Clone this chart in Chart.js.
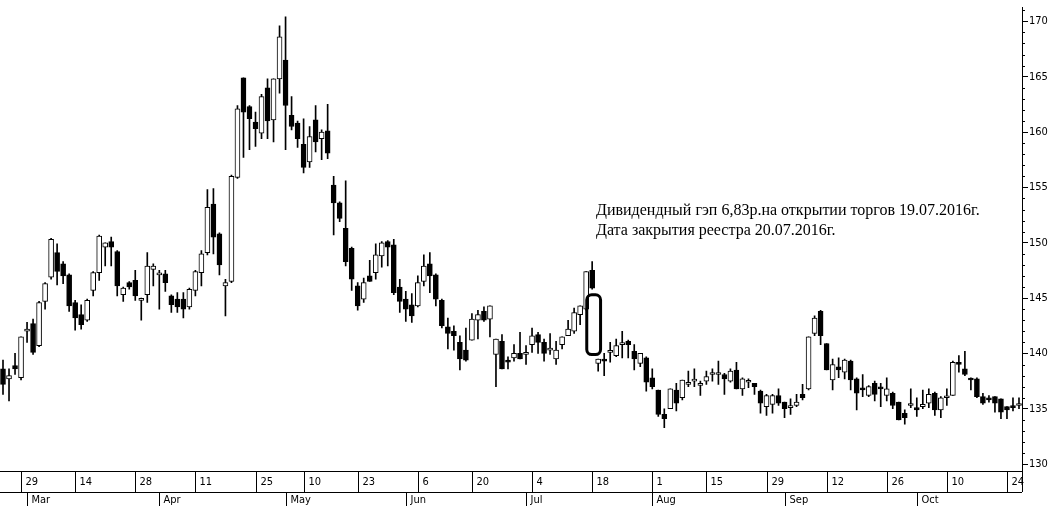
<!DOCTYPE html>
<html>
<head>
<meta charset="utf-8">
<script src="https://cdn.jsdelivr.net/npm/chart.js@4/dist/chart.umd.min.js"></script>
<style>
  html, body { margin: 0; padding: 0; background: #fff; }
  #wrap { width: 1057px; height: 506px; }
</style>
</head>
<body>
<div id="wrap"><canvas id="chart"></canvas></div>
<script>
// OHLC, one entry per trading day
const opens = [138.6,137.7,138.9,137.8,142.0,142.7,140.7,144.7,146.9,149.1,148.1,147.1,144.6,143.5,143.0,145.7,147.3,149.6,150.1,149.2,
  145.3,146.4,146.6,144.8,145.3,147.6,147.1,147.2,145.2,144.9,144.9,144.2,145.7,147.3,149.1,153.5,150.8,146.1,146.5,155.9,
  164.9,162.3,160.9,159.9,164.0,161.1,164.8,166.5,161.5,160.8,158.9,157.3,161.1,159.4,160.1,155.2,153.6,151.3,149.5,146.1,
  144.9,147.0,147.3,148.8,150.1,149.8,146.0,144.9,144.4,144.3,146.5,148.1,147.1,144.8,142.4,142.0,141.0,140.3,141.2,143.0,
  143.8,143.1,139.9,141.1,139.4,139.6,140.0,139.9,140.8,141.7,141.0,140.3,139.5,140.8,141.6,142.0,143.5,144.0,147.5,139.1,
  139.5,140.1,139.8,140.8,141.1,140.2,139.1,139.6,137.8,136.7,134.5,135.0,136.7,136.0,137.2,137.5,137.1,137.5,138.1,138.1,
  138.1,137.5,138.5,136.8,137.4,137.3,136.6,135.2,135.4,136.2,135.6,135.1,135.3,136.3,136.8,141.8,143.8,140.9,137.6,138.8,
  138.3,139.3,137.7,136.9,136.2,137.3,136.9,136.2,136.4,135.6,134.6,135.3,135.1,135.2,135.5,136.4,134.9,136.0,136.2,139.2,
  138.6,137.7,137.7,136.1,136.0,136.1,135.9,135.2,135.3,135.3]
const highs = [139.4,138.6,140.0,141.5,142.8,143.1,144.7,146.4,150.4,149.9,148.3,147.2,144.8,144.4,144.9,147.4,150.7,150.0,150.5,149.3,
  146.0,146.5,147.5,145.0,149.1,148.1,147.5,147.5,145.3,145.5,145.5,145.9,147.5,149.3,154.8,154.9,150.9,146.7,156.1,162.4,
  164.9,162.4,161.8,163.4,164.8,164.8,169.6,170.4,163.2,161.0,161.2,160.5,162.4,160.2,162.5,156.0,153.7,155.6,149.6,146.4,
  146.8,148.4,149.9,150.1,150.2,150.3,146.7,145.6,145.4,147.0,148.9,149.1,147.2,144.9,143.2,142.5,141.6,142.3,143.6,143.9,
  144.2,144.3,141.3,141.7,139.7,140.8,141.9,140.7,142.3,141.9,141.3,141.8,141.1,141.5,143.0,144.1,144.3,147.4,148.3,139.5,
  140.0,141.0,141.3,142.0,141.2,140.8,140.0,139.7,138.6,136.7,135.0,136.8,137.3,137.6,138.4,138.6,137.5,138.4,138.6,139.3,
  138.2,138.6,139.2,137.8,137.7,137.3,136.7,136.3,136.3,136.8,135.6,135.9,136.3,137.2,141.5,143.4,143.9,140.9,139.5,139.6,
  139.5,139.4,137.8,138.1,137.1,137.5,137.3,137.8,136.5,135.6,134.9,136.8,136.0,136.7,136.8,136.5,136.1,136.8,139.3,139.8,
  140.2,137.8,137.8,136.4,136.2,136.1,135.9,135.2,136.0,136.0]
const lows = [136.3,135.7,138.1,137.6,141.0,139.9,140.6,144.0,146.7,146.2,146.3,143.8,142.1,142.2,142.9,145.2,146.6,147.9,147.9,145.2,
  144.7,145.8,144.8,143.0,144.6,146.1,144.0,145.6,143.7,143.7,143.2,144.0,145.2,146.1,148.9,149.0,147.1,143.4,146.4,155.8,
  157.7,158.4,158.7,159.4,159.4,159.1,163.5,158.4,160.2,158.6,156.3,156.8,158.2,157.5,157.6,150.7,151.9,147.9,145.7,143.9,
  144.6,146.5,146.7,147.8,147.9,145.3,143.7,142.9,142.8,144.2,146.1,145.5,144.3,142.3,140.4,140.3,138.5,139.3,141.2,141.3,
  142.9,141.5,137.0,138.6,138.6,139.3,139.5,139.0,140.1,140.0,139.3,139.9,139.0,140.4,141.6,141.8,142.6,143.9,145.8,138.4,
  138.0,139.2,139.7,139.6,139.6,138.5,138.8,136.6,136.8,134.3,133.3,135.0,134.8,135.8,137.0,137.0,136.2,137.2,137.5,137.2,
  136.3,137.4,136.8,136.2,136.9,136.3,134.6,134.4,134.6,135.3,134.2,134.5,135.2,135.8,136.7,141.6,140.8,138.5,136.7,137.8,
  137.7,136.7,134.9,136.1,136.1,135.7,135.2,135.7,135.0,134.0,133.6,135.1,134.3,135.0,135.1,134.4,134.2,135.3,136.2,138.3,
  138.0,136.7,136.0,135.4,135.6,134.7,134.1,134.1,134.8,135.0]
const closes = [137.2,138.0,138.6,141.5,142.2,140.1,144.6,146.3,150.3,147.4,147.0,144.3,143.2,142.6,144.8,147.3,150.6,150.0,149.6,146.1,
  145.9,146.0,145.2,144.8,147.9,147.9,147.2,146.4,144.4,144.2,144.0,145.8,147.4,149.0,153.2,150.5,148.0,146.4,156.0,162.1,
  161.8,161.2,160.3,163.2,161.0,164.8,168.6,162.4,160.5,159.4,156.8,159.6,159.1,160.0,158.1,153.6,152.2,148.3,146.7,144.3,
  146.4,146.5,148.9,150.0,149.6,145.5,144.7,144.0,143.4,146.4,147.9,147.0,144.9,142.5,141.8,141.6,139.5,139.4,143.1,143.5,
  143.0,144.3,141.3,138.6,139.2,140.0,139.5,140.1,141.6,141.0,140.0,140.3,140.3,141.5,142.2,143.7,144.3,147.4,145.9,139.5,
  139.3,140.1,140.7,140.8,140.8,139.5,140.0,137.4,137.0,134.5,134.1,136.8,135.5,137.6,137.4,137.5,137.3,137.9,138.1,138.1,
  137.7,138.4,136.8,137.7,137.4,137.0,135.5,136.2,136.2,135.5,135.0,135.1,135.6,136.0,141.5,143.2,141.6,138.5,139.0,138.5,
  139.4,137.6,136.4,136.7,137.0,136.3,136.8,136.8,135.3,134.0,134.2,135.3,134.9,135.4,136.3,134.9,136.0,136.1,139.2,139.0,
  138.1,137.6,136.1,135.5,135.8,135.5,134.7,134.9,135.1,135.3]

// date row: candle index -> label, month row: candle index -> label
const dayTickIdx = [3, 12, 22, 32, 42, 50, 59, 69, 78, 88, 98, 108, 117, 127, 137, 147, 157, 167]
const dayTickLabels = ['29', '14', '28', '11', '25', '10', '23', '6', '20', '4', '18', '1', '15', '29', '12', '26', '10', '24']
const monthTickIdx = [4, 26, 47, 67, 87, 108, 130, 152]
const monthTickLabels = ['Mar', 'Apr', 'May', 'Jun', 'Jul', 'Aug', 'Sep', 'Oct']

// dividend gap frame: from candle to candle, between these prices
const gapIdx = [97.6, 98.9]
const gapPrices = [145.3, 139.9]
const noteLines = ['Дивидендный гэп 6,83р.на открытии торгов 19.07.2016г.', 'Дата закрытия реестра 20.07.2016г.']

const labels = opens.map((o, i) => i)
const wicks = lows.map((l, i) => [l, highs[i]])
const bodies = opens.map((o, i) => [Math.min(o, closes[i]), Math.max(o, closes[i])])
const bodyColors = opens.map((o, i) => closes[i] >= o ? '#fff' : '#000')

const axisPlugin = {
  id: 'axisRows',
  afterDraw(chart) {
    const ctx = chart.ctx
    const x = chart.scales.x
    const y = chart.scales.y
    const area = chart.chartArea
    const row1 = area.bottom
    const row2 = area.bottom + 21
    ctx.save()
    ctx.strokeStyle = '#000'
    ctx.lineWidth = 1
    ctx.beginPath()
    ctx.moveTo(0, row1 + 0.5); ctx.lineTo(area.right, row1 + 0.5)
    ctx.moveTo(0, row2 + 0.5); ctx.lineTo(area.right, row2 + 0.5)
    ctx.moveTo(area.right + 0.5, row1); ctx.lineTo(area.right + 0.5, row2)
    ctx.stroke()
    ctx.fillStyle = '#000'
    ctx.font = '11px "DejaVu Sans Condensed", "Liberation Sans", sans-serif'
    ctx.textBaseline = 'middle'
    dayTickIdx.forEach((idx, k) => {
      const px = Math.round(x.getPixelForValue(idx)) + 0.5
      ctx.beginPath(); ctx.moveTo(px, row1); ctx.lineTo(px, row2); ctx.stroke()
      ctx.fillText(dayTickLabels[k], px + 4, row1 + 11)
    })
    monthTickIdx.forEach((idx, k) => {
      const px = Math.round(x.getPixelForValue(idx)) + 0.5
      ctx.beginPath(); ctx.moveTo(px, row2); ctx.lineTo(px, chart.height); ctx.stroke()
      ctx.fillText(monthTickLabels[k], px + 4, row2 + 8)
    })
    // minor ticks on price axis
    ctx.beginPath()
    for (let v = 130; v <= 171; v++) {
      if (v % 5 === 0) continue
      const py = Math.round(y.getPixelForValue(v)) + 0.5
      ctx.moveTo(area.right, py); ctx.lineTo(area.right + 3, py)
    }
    ctx.stroke()
    // gap frame
    const gx1 = x.getPixelForValue(gapIdx[0]) - 3
    const gx2 = x.getPixelForValue(gapIdx[1]) + 3
    const gy1 = y.getPixelForValue(gapPrices[0])
    const gy2 = y.getPixelForValue(gapPrices[1])
    ctx.lineWidth = 3
    ctx.beginPath()
    ctx.roundRect(gx1, gy1, gx2 - gx1, gy2 - gy1, 5)
    ctx.stroke()
    // note
    ctx.font = '16px "Liberation Serif", "DejaVu Serif", serif'
    ctx.textBaseline = 'alphabetic'
    ctx.fillText(noteLines[0], 596, 215)
    ctx.fillText(noteLines[1], 596, 235)
    ctx.restore()
  }
}

new Chart(document.getElementById('chart'), {
  type: 'bar',
  data: {
    labels: labels,
    datasets: [
      {
        data: wicks,
        backgroundColor: '#000',
        barThickness: 1,
        grouped: false,
        order: 2
      },
      {
        data: bodies,
        backgroundColor: bodyColors,
        borderColor: '#000',
        borderWidth: 1,
        borderSkipped: false,
        barThickness: 5,
        minBarLength: 2,
        grouped: false,
        order: 1
      }
    ]
  },
  options: {
    responsive: true,
    maintainAspectRatio: false,
    animation: false,
    layout: { padding: { left: 0, top: 0, right: 0, bottom: 35 } },
    plugins: { legend: { display: false }, tooltip: { enabled: false } },
    scales: {
      x: { display: false, offset: true },
      y: {
        position: 'right',
        min: 129.38,
        max: 171.24,
        afterBuildTicks: scale => {
          scale.ticks = [130, 135, 140, 145, 150, 155, 160, 165, 170].map(v => ({ value: v }))
        },
        afterFit: scale => { scale.width = 35 },
        border: { color: '#000' },
        grid: { drawOnChartArea: false, color: '#000', tickLength: 6 },
        ticks: {
          color: '#000',
          padding: 1,
          font: { size: 11, family: '"DejaVu Sans Condensed", "Liberation Sans", sans-serif' }
        }
      }
    }
  },
  plugins: [axisPlugin]
})
</script>
</body>
</html>
